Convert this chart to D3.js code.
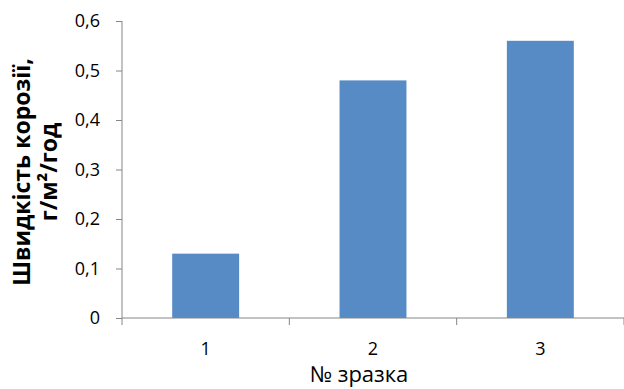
<!DOCTYPE html>
<html>
<head>
<meta charset="utf-8">
<script src="https://cdn.jsdelivr.net/npm/d3@7"></script>
<style>
  html, body { margin: 0; padding: 0; background: #fff; }
  svg text { font-family: "Open Sans", "Noto Sans", sans-serif; }
</style>
</head>
<body>
<svg id="chart" width="624" height="389"></svg>
<script>
// Corrosion rate per sample
const samples = ["1", "2", "3"];
const rates = [0.13, 0.48, 0.56];
const yTicks = [0, 0.1, 0.2, 0.3, 0.4, 0.5, 0.6];
const yTitle = ["Швидкість корозії,", "г/м²/год"];
const xTitle = "№ зразка";

const svg = d3.select("#chart");
const plotLeft = 122, plotRight = 624, plotTop = 21, plotBottom = 318;

const x = d3.scaleBand().domain(samples).range([plotLeft, plotRight]).paddingInner(0.6).paddingOuter(0.3);
const y = d3.scaleLinear().domain([0, 0.6]).range([plotBottom, plotTop]);

const fmt = d => d === 0 ? "0" : d3.format(".1f")(d).replace(".", ",");
const axisColor = "#868686";

// bars
svg.append("g").selectAll("rect").data(rates).join("rect")
  .attr("x", (d, i) => x(samples[i]))
  .attr("y", d => y(d))
  .attr("width", x.bandwidth())
  .attr("height", d => plotBottom - y(d))
  .attr("fill", "#578bc5");

// y axis
const yAxis = svg.append("g").attr("transform", `translate(${plotLeft},0)`)
  .call(d3.axisLeft(y).tickValues(yTicks).tickFormat(fmt).tickSize(6).tickPadding(16));
yAxis.select(".domain").attr("stroke", axisColor).attr("d", `M0,${plotTop}V${plotBottom}`);
yAxis.selectAll(".tick line").attr("stroke", axisColor);
yAxis.selectAll(".tick text").attr("fill", "#000").attr("font-size", 18);

// x axis with boundary ticks between categories
const xg = svg.append("g").attr("transform", `translate(0,${plotBottom})`);
xg.append("line").attr("x1", plotLeft).attr("x2", plotRight).attr("stroke", axisColor);
const bounds = d3.range(samples.length + 1).map(i => plotLeft + i * (plotRight - plotLeft) / samples.length);
xg.selectAll("line.b").data(bounds).join("line").attr("class", "b")
  .attr("x1", d => d).attr("x2", d => d).attr("y1", 0).attr("y2", 7).attr("stroke", axisColor);
xg.selectAll("text").data(samples).join("text")
  .attr("x", d => x(d) + x.bandwidth() / 2)
  .attr("y", 37)
  .attr("text-anchor", "middle")
  .attr("font-size", 18)
  .text(d => d);

// axis titles
svg.append("text")
  .attr("x", 359)
  .attr("y", 382)
  .attr("text-anchor", "middle")
  .attr("font-size", 22)
  .text(xTitle);

const yt = svg.append("text")
  .attr("transform", "translate(36,172) rotate(-90)")
  .attr("text-anchor", "middle")
  .attr("font-size", 23)
  .attr("font-weight", "bold");
yTitle.forEach((t, i) => yt.append("tspan").attr("x", 0).attr("dy", i === 0 ? -6 : 27).text(t));
</script>
</body>
</html>
